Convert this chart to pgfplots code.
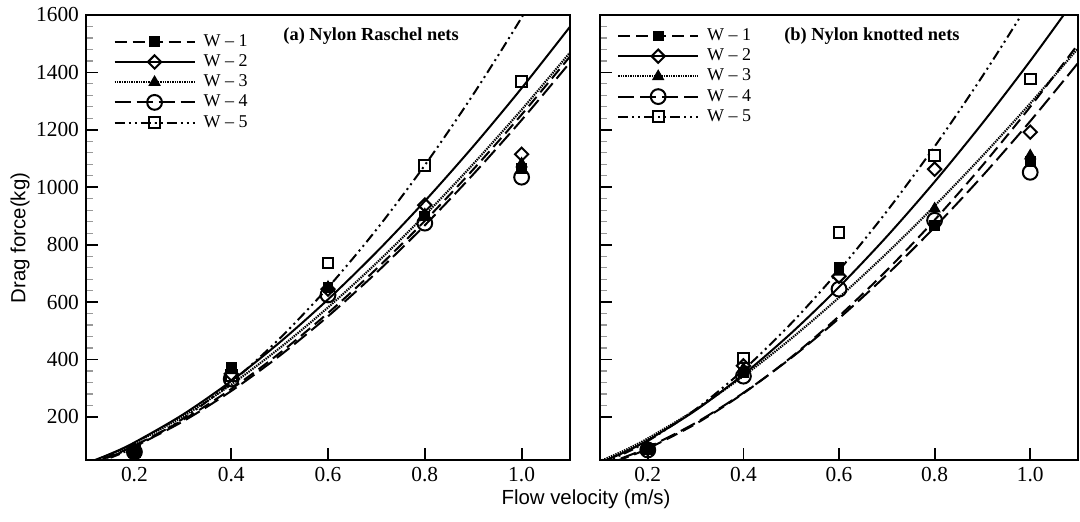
\documentclass[border=0pt]{standalone}
\usepackage{pgfplots}
\pgfplotsset{compat=1.18}
\usepackage{fontspec}
\setmainfont{Liberation Serif}
\newfontfamily\arial{Liberation Sans}
\pgfplotsset{
  panel/.style={
    scale only axis, width=242pt, height=222.5pt,
    xmin=0.1, xmax=1.1, ymin=50, ymax=1600,
    xtick={0.2,0.4,0.6,0.8,1.0},
    ytick={200,400,600,800,1000,1200,1400,1600},
    minor y tick num=4,
    tick pos=left,
    axis line style={line width=1pt},
    major tick length=6pt, minor tick length=3.5pt,
    major tick style={black, line width=0.9pt},
    minor tick style={gray!80, line width=0.6pt},
    /pgf/number format/assume math mode=true,
    /pgf/number format/1000 sep={},
    ticklabel style={font=\fontsize{10.7}{12}\selectfont},
    xticklabel style={/pgf/number format/.cd, fixed, fixed zerofill, precision=1},
    legend style={draw=none, fill=none, anchor=north west,
      font=\fontsize{9}{10}\selectfont, inner sep=0pt, row sep=0.6pt,
      column sep=3pt,
      nodes={inner sep=1pt, text height=6pt, text depth=1.5pt},
      cells={anchor=west}},
  },
  legline/.style={legend image code/.code={\draw[mark repeat=2,mark phase=2] plot coordinates {(0pt,0pt) (20pt,0pt) (40pt,0pt)};}},
  w1/.style={black, line width=1pt, dash pattern=on 6pt off 3pt},
  w2/.style={black, line width=1pt, solid},
  w3/.style={black, line width=1.05pt, dash pattern=on 0.7pt off 0.5pt},
  w4/.style={black, line width=1pt, dash pattern=on 8pt off 3pt},
  w5/.style={black, line width=1pt, dash pattern=on 5pt off 2pt on 1pt off 2pt on 1pt off 2pt},
  m1/.style={mark=square*, mark size=2.4pt, mark options={solid, fill=black, line width=0.6pt}},
  m2/.style={mark=square, mark size=2.35pt, mark options={solid, rotate=45, fill=white, line width=1pt}},
  m3/.style={mark=triangle*, mark size=3pt, mark options={solid, fill=black, line width=0.6pt}},
  m4/.style={mark=o, mark size=3.7pt, mark options={solid, fill=white, line width=1pt}},
  m5/.style={mark=square, mark size=2.7pt, mark options={solid, fill=white, line width=1pt}},
}
\begin{document}
\begin{tikzpicture}
\useasboundingbox (0,0) rectangle (540pt,261pt);
% ---------------- left panel ----------------
\begin{axis}[panel, at={(43pt,31pt)}, anchor=south west,
  legend style={at={(axis description cs:0.056,0.962)}}]
\addlegendimage{w1, m1, legline}
\addlegendimage{w2, m2, legline}
\addlegendimage{w3, m3, legline}
\addlegendimage{w4, m4, legline}
\addlegendimage{w5, m5, legline}
\legend{W – 1, W – 2, W – 3, W – 4, W – 5}
% fitted curves
\addplot[w1, smooth, forget plot] coordinates {(0.1,33.7) (0.15,63.7) (0.2,100.1) (0.3,189.3) (0.4,297.3) (0.5,422.0) (0.6,561.9) (0.7,715.7) (0.8,882.7) (0.9,1062.0) (1.0,1253) (1.1,1455.3)};
\addplot[w2, smooth, forget plot] coordinates {(0.1,37.9) (0.15,71.1) (0.2,111.0) (0.3,208.1) (0.4,325.0) (0.5,459.3) (0.6,609.3) (0.7,773.8) (0.8,951.7) (0.9,1142.3) (1.0,1345) (1.1,1559.1)};
\addplot[w3, smooth, forget plot] coordinates {(0.1,37.5) (0.15,69.7) (0.2,108.2) (0.3,201.3) (0.4,312.6) (0.5,439.8) (0.6,581.3) (0.7,735.9) (0.8,902.7) (0.9,1080.9) (1.0,1270) (1.1,1469.4)};
\addplot[w4, smooth, forget plot] coordinates {(0.1,32.5) (0.15,61.6) (0.2,97.0) (0.3,184.1) (0.4,290.1) (0.5,412.8) (0.6,550.5) (0.7,702.4) (0.8,867.4) (0.9,1044.8) (1.0,1234) (1.1,1434.5)};
\addplot[w5, smooth, forget plot] coordinates {(0.1,28.3) (0.15,57.5) (0.2,95.2) (0.3,193.5) (0.4,320.1) (0.5,473.0) (0.6,650.8) (0.7,852.3) (0.8,1076.7) (0.9,1323.1) (1.0,1591) (1.1,1879.8)};
% measured points
\addplot[only marks, m4, forget plot] coordinates {(0.2,78) (0.4,332) (0.6,625) (0.8,875) (1.0,1035)};
\addplot[only marks, m1, forget plot] coordinates {(0.2,80) (0.4,372) (0.6,650) (0.8,900) (1.0,1065)};
\addplot[only marks, m3, forget plot] coordinates {(0.2,82) (0.4,362) (0.6,652) (0.8,905) (1.0,1082)};
\addplot[only marks, m2, forget plot] coordinates {(0.2,82) (0.4,350) (0.6,645) (0.8,938) (1.0,1115)};
\addplot[only marks, m5, forget plot] coordinates {(0.2,80) (0.4,345) (0.6,736) (0.8,1077) (1.0,1368)};
\node[font=\bfseries\fontsize{9.2}{11}\selectfont] at (axis description cs:0.589,0.953) {(a) Nylon Raschel nets};
\end{axis}
% ---------------- right panel ----------------
\begin{axis}[panel, at={(300pt,31pt)}, anchor=south west, width=239pt,
  yticklabels={},
  legend style={at={(axis description cs:0.035,0.975)}}]
\addlegendimage{w1, m1, legline}
\addlegendimage{w2, m2, legline}
\addlegendimage{w3, m3, legline}
\addlegendimage{w4, m4, legline}
\addlegendimage{w5, m5, legline}
\legend{W – 1, W – 2, W – 3, W – 4, W – 5}
\addplot[w1, smooth, forget plot] coordinates {(0.1,28.7) (0.15,55.9) (0.2,89.9) (0.3,175.6) (0.4,282.2) (0.5,407.9) (0.6,551.0) (0.7,710.6) (0.8,885.7) (0.9,1075.7) (1.0,1280) (1.1,1498.0)};
\addplot[w2, smooth, forget plot] coordinates {(0.1,40.6) (0.15,76.1) (0.2,118.8) (0.3,222.8) (0.4,348.0) (0.5,491.8) (0.6,652.4) (0.7,828.4) (0.8,1019.0) (0.9,1223.0) (1.0,1440) (1.1,1669.2)};
\addplot[w3, smooth, forget plot] coordinates {(0.1,45.8) (0.15,82.5) (0.2,125.2) (0.3,225.5) (0.4,342.2) (0.5,472.9) (0.6,616.0) (0.7,770.3) (0.8,934.9) (0.9,1109.0) (1.0,1292) (1.1,1483.5)};
\addplot[w4, smooth, forget plot] coordinates {(0.1,30.9) (0.15,59.1) (0.2,93.7) (0.3,179.2) (0.4,283.9) (0.5,405.7) (0.6,543.2) (0.7,695.1) (0.8,860.7) (0.9,1039.2) (1.0,1230) (1.1,1432.6)};
\addplot[w5, smooth, forget plot] coordinates {(0.1,36.9) (0.15,72.1) (0.2,115.9) (0.3,226.3) (0.4,363.8) (0.5,525.8) (0.6,710.3) (0.7,916.0) (0.8,1141.8) (0.9,1386.7) (1.0,1650) (1.1,1931.0)};
\addplot[only marks, m1, forget plot] coordinates {(0.2,85) (0.4,355) (0.6,720) (0.8,868) (1.0,1090)};
\addplot[only marks, m3, forget plot] coordinates {(0.2,88) (0.4,368) (0.6,705) (0.8,925) (1.0,1110)};
\addplot[only marks, m4, forget plot] coordinates {(0.2,85) (0.4,342) (0.6,645) (0.8,885) (1.0,1052)};
\addplot[only marks, m2, forget plot] coordinates {(0.2,90) (0.4,378) (0.6,690) (0.8,1063) (1.0,1192)};
\addplot[only marks, m5, forget plot] coordinates {(0.2,88) (0.4,405) (0.6,843) (0.8,1110) (1.0,1377)};
\node[font=\bfseries\fontsize{9.2}{11}\selectfont] at (axis description cs:0.569,0.953) {(b) Nylon knotted nets};
\end{axis}
% axis titles
\node[font=\arial\fontsize{10.2}{12}\selectfont, rotate=90] at (10pt,142pt) {Drag force(kg)};
\node[font=\arial\fontsize{10.2}{12}\selectfont, anchor=base] at (293pt,8.5pt) {Flow velocity (m/s)};
\end{tikzpicture}
\end{document}
